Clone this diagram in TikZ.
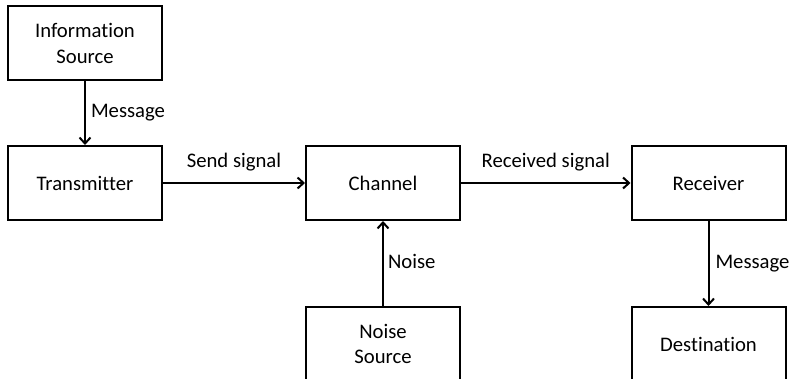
\documentclass[tikz,border=0pt]{standalone}
\usepackage{fontspec}
\setmainfont{Carlito}[Ligatures={NoCommon}]
\usetikzlibrary{arrows.meta}
\begin{document}
\begin{tikzpicture}[x=1pt,y=-1pt,
  font=\fontsize{20.7}{25.5}\selectfont,
  blockbox/.style={draw=black, line width=2pt, minimum width=154pt, minimum height=74pt,
    inner sep=0pt, align=center},
  flow/.style={line width=2pt, -{Straight Barb[length=6pt,width=11pt,line width=2pt]}},
  sidelab/.style={anchor=base west, inner sep=0pt},
  toplab/.style={anchor=base, inner sep=0pt}]
  \useasboundingbox (0,0) rectangle (790,379);
  \clip (0,0) rectangle (790,379);

  % blocks
  \node[blockbox] (src)  at (85,43.5)  {Information\\Source};
  \node[blockbox] (tx)   at (85,183)   {Transmitter};
  \node[blockbox] (ch)   at (383,183)  {Channel};
  \node[blockbox] (rx)   at (708.5,183){Receiver};
  \node[blockbox] (ns)   at (383,344)  {Noise\\Source};
  \node[blockbox] (dst)  at (708.5,344){Destination};

  % connectors with their labels
  \draw[flow] (src) -- (tx)
    node[sidelab, pos=0.5, xshift=5pt, yshift=-4pt] {Message};
  \draw[flow] (tx) -- (ch)
    node[toplab, pos=0.5, yshift=15pt] {Send signal};
  \draw[flow] (ch) -- (rx)
    node[toplab, pos=0.5, yshift=15pt] {Received signal};
  \draw[flow] (ns) -- (ch)
    node[sidelab, pos=0.5, xshift=4pt, yshift=-5pt] {Noise};
  \draw[flow] (rx) -- (dst)
    node[sidelab, pos=0.5, xshift=6pt, yshift=-5pt] {Message};
\end{tikzpicture}
\end{document}
